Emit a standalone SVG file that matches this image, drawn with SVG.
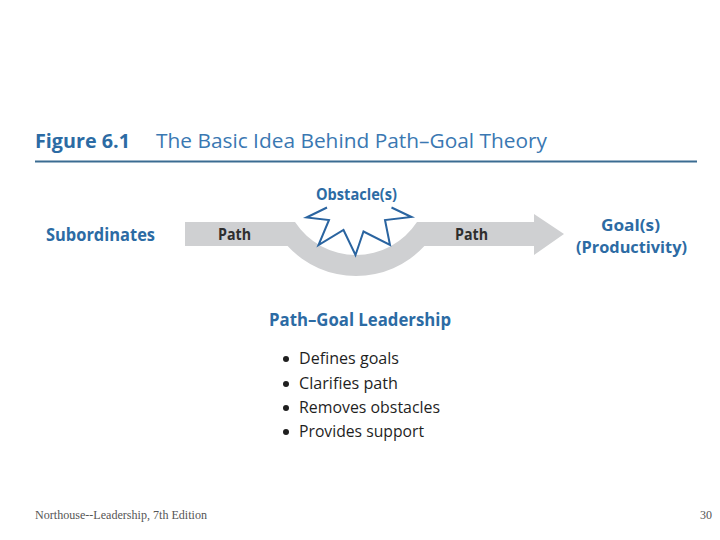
<svg xmlns="http://www.w3.org/2000/svg" width="720" height="540" viewBox="0 0 720 540">
<style>
.sans{font-family:"Open Sans","Noto Sans","Liberation Sans",sans-serif}
.blueb{fill:#2c6ba4;font-weight:700}
.title2{fill:#3a78b2;font-weight:400}
.path{fill:#2e2e2e;font-weight:700;font-size:16px}
.bul{fill:#1f1f1f;font-size:17px}
.foot{font-family:"Liberation Serif","Times New Roman",serif;font-size:12px;fill:#555}
</style>
<rect width="720" height="540" fill="#fff"/>
<g id="title">
<text class="sans blueb" x="35" y="148" font-size="20" textLength="95" lengthAdjust="spacingAndGlyphs">Figure 6.1</text>
<text class="sans title2" x="156" y="148" font-size="20" textLength="391" lengthAdjust="spacingAndGlyphs">The Basic Idea Behind Path–Goal Theory</text>
<line x1="35" y1="161.5" x2="697" y2="161.5" stroke="#3b6c92" stroke-width="2"/>
</g>
<g id="connectors">
<path d="M185,222 L295,222 A73,73 0 0 0 417,222 L534,222 L534,214 L564,234 L534,255 L534,246 L424.4,246 A93,93 0 0 1 287.6,246 L185,246 Z" fill="#cfd0d2"/>
</g>
<g id="path-labels">
<text class="sans path" x="218" y="240" textLength="33" lengthAdjust="spacingAndGlyphs">Path</text>
<text class="sans path" x="455" y="240" textLength="33" lengthAdjust="spacingAndGlyphs">Path</text>
</g>
<g id="subordinates">
<text class="sans blueb" x="46" y="241" font-size="18" textLength="109" lengthAdjust="spacingAndGlyphs">Subordinates</text>
</g>
<g id="obstacle">
<polyline points="327,207.5 306.5,217.5 329,220 318.5,245 343.5,230 355.5,255 363.5,231.5 390,245 385,220 411.5,217 391.5,207.5" fill="#fff" stroke="#2a64a0" stroke-width="2" stroke-linejoin="miter"/>
<text class="sans blueb" x="316" y="200" font-size="15.5" font-weight="600" textLength="81" lengthAdjust="spacingAndGlyphs">Obstacle(s)</text>
</g>
<g id="goal">
<text class="sans blueb" x="601" y="230.5" font-size="16" textLength="59" lengthAdjust="spacingAndGlyphs">Goal(s)</text>
<text class="sans blueb" x="576" y="252.5" font-size="16" textLength="111" lengthAdjust="spacingAndGlyphs">(Productivity)</text>
</g>
<g id="leadership">
<text class="sans blueb" x="269" y="326" font-size="18" textLength="182" lengthAdjust="spacingAndGlyphs">Path–Goal Leadership</text>
<g fill="#1f1f1f">
<circle cx="286" cy="359" r="3"/>
<circle cx="286" cy="384" r="3"/>
<circle cx="286" cy="408" r="3"/>
<circle cx="286" cy="432" r="3"/>
</g>
<text class="sans bul" x="299" y="364" textLength="100" lengthAdjust="spacingAndGlyphs">Defines goals</text>
<text class="sans bul" x="299" y="389" textLength="99" lengthAdjust="spacingAndGlyphs">Clarifies path</text>
<text class="sans bul" x="299" y="413" textLength="141" lengthAdjust="spacingAndGlyphs">Removes obstacles</text>
<text class="sans bul" x="299" y="437" textLength="125" lengthAdjust="spacingAndGlyphs">Provides support</text>
</g>
<g id="footer">
<text class="foot" x="35" y="519" textLength="172" lengthAdjust="spacingAndGlyphs">Northouse--Leadership, 7th Edition</text>
<text class="foot" x="712" y="519" text-anchor="end">30</text>
</g>
</svg>
